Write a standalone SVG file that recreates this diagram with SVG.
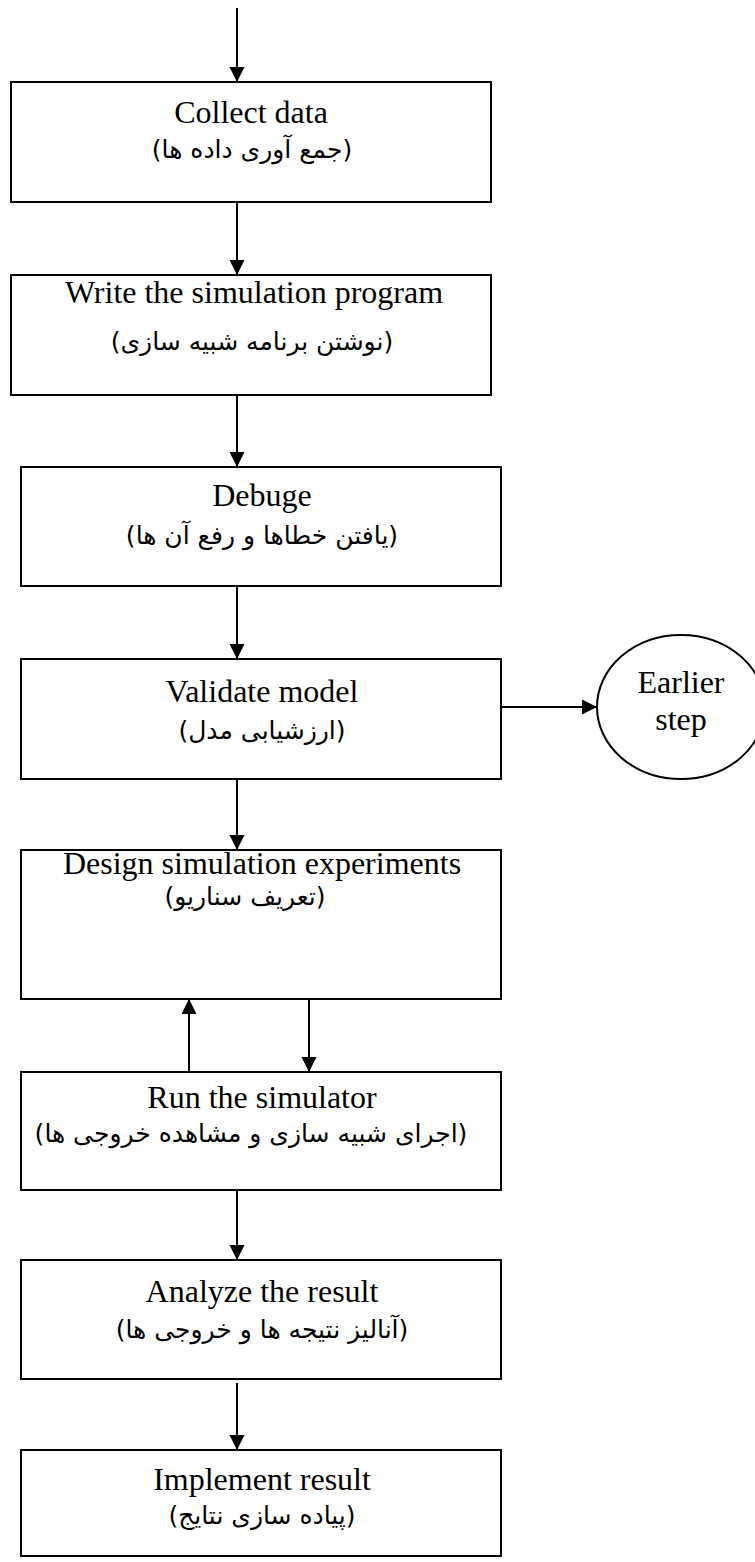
<svg xmlns="http://www.w3.org/2000/svg" width="755" height="1562" viewBox="0 0 755 1562">
<defs>
<marker id="ah" markerUnits="userSpaceOnUse" markerWidth="16" markerHeight="16" refX="15" refY="7.5" orient="auto">
<path d="M0,0 L15,7.5 L0,15 Z" fill="#000"/>
</marker>
<style>
.box{fill:#fff;stroke:#000;stroke-width:2}
.en{font-family:"Liberation Serif","Times New Roman",serif;font-size:32px;fill:#000;text-anchor:middle}
.fa{font-family:"DejaVu Sans","Noto Sans",sans-serif;font-size:25px;fill:#000;text-anchor:middle}
.ln{stroke:#000;stroke-width:2;fill:none;marker-end:url(#ah)}
</style>
</defs>
<rect width="755" height="1562" fill="#fff"/>
<g id="connectors">
<line class="ln" x1="237" y1="8" x2="237" y2="82"/>
<line class="ln" x1="237" y1="202" x2="237" y2="275"/>
<line class="ln" x1="237" y1="395" x2="237" y2="467"/>
<line class="ln" x1="237" y1="586" x2="237" y2="659"/>
<line class="ln" x1="501" y1="707" x2="597" y2="707"/>
<line class="ln" x1="237" y1="779" x2="237" y2="850"/>
<line class="ln" x1="189" y1="1072" x2="189" y2="999"/>
<line class="ln" x1="309" y1="999" x2="309" y2="1072"/>
<line class="ln" x1="237" y1="1190" x2="237" y2="1260"/>
<line class="ln" x1="237" y1="1383" x2="237" y2="1450"/>
</g>
<g id="collect">
<rect class="box" x="11" y="82" width="480" height="120"/>
<text class="en" x="251" y="123">Collect data</text>
<text class="fa" x="252" y="158">(جمع آوری داده ها)</text>
</g>
<g id="write">
<rect class="box" x="11" y="275" width="480" height="120"/>
<text class="en" x="254" y="303">Write the simulation program</text>
<text class="fa" x="252" y="350">(نوشتن برنامه شبیه سازی)</text>
</g>
<g id="debuge">
<rect class="box" x="21" y="467" width="480" height="119"/>
<text class="en" x="262" y="506">Debuge</text>
<text class="fa" x="262" y="544">(یافتن خطاها و رفع آن ها)</text>
</g>
<g id="validate">
<rect class="box" x="21" y="659" width="480" height="120"/>
<text class="en" x="262" y="702">Validate model</text>
<text class="fa" x="262" y="739">(ارزشیابی مدل)</text>
</g>
<g id="earlier">
<ellipse cx="681" cy="707" rx="84" ry="72" fill="#fff" stroke="#000" stroke-width="2"/>
<text class="en" x="681" y="693">Earlier</text>
<text class="en" x="681" y="730">step</text>
</g>
<g id="design">
<rect class="box" x="21" y="850" width="480" height="149"/>
<text class="en" x="262" y="874">Design simulation experiments</text>
<text class="fa" x="245" y="905">(تعریف سناریو)</text>
</g>
<g id="run">
<rect class="box" x="21" y="1072" width="480" height="118"/>
<text class="en" x="262" y="1108">Run the simulator</text>
<text class="fa" x="251" y="1142">(اجرای شبیه سازی و مشاهده خروجی ها)</text>
</g>
<g id="analyze">
<rect class="box" x="21" y="1260" width="480" height="119"/>
<text class="en" x="262" y="1302">Analyze the result</text>
<text class="fa" x="262" y="1338">(آنالیز نتیجه ها و خروجی ها)</text>
</g>
<g id="implement">
<rect class="box" x="21" y="1450" width="480" height="106"/>
<text class="en" x="262" y="1490">Implement result</text>
<text class="fa" x="262" y="1524">(پیاده سازی نتایج)</text>
</g>
</svg>
